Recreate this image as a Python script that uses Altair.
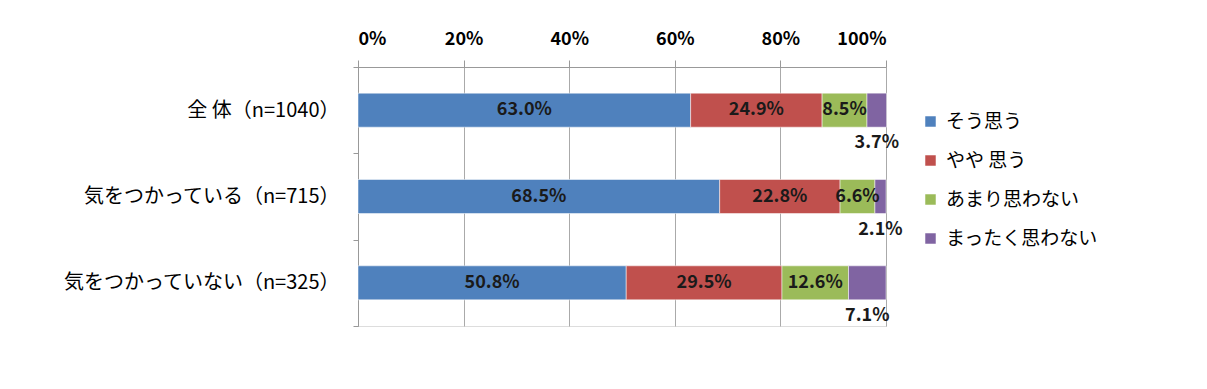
import altair as alt
import pandas as pd

categories = ["全 体（n=1040）", "気をつかっている（n=715）", "気をつかっていない（n=325）"]
responses = ["そう思う", "やや 思う", "あまり思わない", "まったく思わない"]
colors = ["#4F81BD", "#C0504D", "#9BBB59", "#8064A2"]
values = {
    "そう思う": [63.0, 68.5, 50.8],
    "やや 思う": [24.9, 22.8, 29.5],
    "あまり思わない": [8.5, 6.6, 12.6],
    "まったく思わない": [3.7, 2.1, 7.1],
}

rows = []
for ri, r in enumerate(responses):
    for ci, c in enumerate(categories):
        rows.append({"cat": c, "resp": r, "order": ri, "val": values[r][ci]})
df = pd.DataFrame(rows)

font = "Noto Sans CJK JP"

base = alt.Chart(df).transform_stack(
    stack="val", groupby=["cat"], as_=["start", "end"], sort=[alt.SortField("order")]
).transform_calculate(
    mid="(datum.start + datum.end) / 2",
    label="format(datum.val, '.1f') + '%'",
)

yenc = alt.Y(
    "cat:N",
    sort=categories,
    title=None,
    scale=alt.Scale(paddingInner=0, paddingOuter=0),
    axis=alt.Axis(
        labelFont=font, labelFontSize=20, labelColor="#000", labelPadding=14,
        tickBand="extent", tickSize=5, tickColor="#999", domainColor="#999",
        labelLimit=400,
    ),
)

bars = base.mark_bar(stroke="white", strokeWidth=0.5, height=34).encode(
    x=alt.X(
        "start:Q",
        scale=alt.Scale(domain=[0, 100]),
        title=None,
        axis=alt.Axis(
            orient="top", values=[0, 20, 40, 60, 80, 100], labelExpr="datum.value + '%'",
            labelFont=font, labelFontSize=18, labelFontWeight="bold", labelColor="#000",
            labelPadding=12, tickSize=7, tickColor="#999", domainColor="#999",
            grid=True, gridColor="#aaa",
        ),
    ),
    x2="end:Q",
    y=yenc,
    color=alt.Color(
        "resp:N",
        scale=alt.Scale(domain=responses, range=colors),
        sort=responses,
        legend=alt.Legend(
            title=None, orient="none", legendX=563, legendY=45,
            symbolType="square", symbolSize=110, symbolStrokeWidth=0,
            labelFont=font, labelFontSize=19, labelColor="#000",
            rowPadding=19, labelOffset=6,
        ),
    ),
    order=alt.Order("order:Q"),
)

txt_in = base.transform_filter("datum.order < 3").mark_text(
    font=font, fontSize=18, fontWeight="bold", color="#1a1a1a"
).encode(x="mid:Q", y=alt.Y("cat:N", sort=categories), text="label:N")

txt_out = base.transform_filter("datum.order == 3").mark_text(
    font=font, fontSize=18, fontWeight="bold", color="#1a1a1a", dy=33
).encode(x="mid:Q", y=alt.Y("cat:N", sort=categories), text="label:N")

chart = alt.layer(bars, txt_in, txt_out).properties(
    width=528, height=259,
    autosize=alt.AutoSizeParams(type="none"),
    padding={"left": 350, "top": 59, "right": 313, "bottom": 55},
).configure_view(stroke=None).configure(background="white")

chart.save("out.html", embed_options={"renderer": "svg", "actions": False})
